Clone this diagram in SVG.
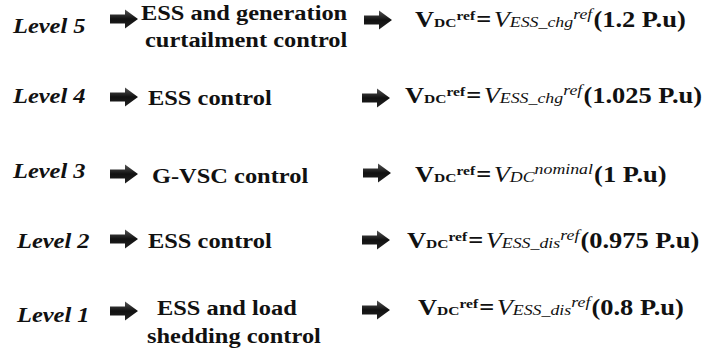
<svg xmlns="http://www.w3.org/2000/svg" width="709" height="353" viewBox="0 0 709 353">
<defs>
<linearGradient id="ag" x1="0" y1="0" x2="0" y2="1">
<stop offset="0" stop-color="#555"/>
<stop offset="0.5" stop-color="#111"/>
<stop offset="1" stop-color="#222"/>
</linearGradient>
<path id="arr" d="M0,-4.5 H15 V-9.5 L28,0 L15,9.5 V4.5 H0 Z" fill="url(#ag)"/>
</defs>
<style>
.lv{font-size:22px;font-weight:bold;font-style:italic}
.ct{font-size:22px;font-weight:bold}
.f{font-size:23px;font-weight:bold}
.sub{font-size:13.5px}
.isub{font-size:15.5px;font-style:italic;font-weight:normal}
.it{font-style:italic;font-weight:normal}
</style>
<rect width="709" height="353" fill="#fff"/>
<g id="connectors">
<use href="#arr" x="110" y="19"/>
<use href="#arr" x="364" y="20"/>
<use href="#arr" x="110" y="97"/>
<use href="#arr" x="362" y="98"/>
<use href="#arr" x="110" y="174"/>
<use href="#arr" x="363" y="173"/>
<use href="#arr" x="110" y="239"/>
<use href="#arr" x="362" y="240"/>
<use href="#arr" x="110" y="311"/>
<use href="#arr" x="362" y="310"/>
</g>
<g font-family="Liberation Serif, Times New Roman, DejaVu Serif, serif" fill="#111">
<g id="level5">
<text class="lv" transform="translate(13,33) scale(1.11,1)">Level 5</text>
<text class="ct" transform="translate(141,20) scale(1.11,1)">ESS and generation</text>
<text class="ct" transform="translate(145,47) scale(1.11,1)">curtailment control</text>
<text class="f" transform="translate(415,27) scale(1.15,1)">V<tspan class="sub">DC</tspan><tspan class="sub" dy="-7">ref</tspan><tspan dy="7" dx="1">=</tspan><tspan class="it" dx="2">V</tspan><tspan class="isub">ESS_chg</tspan><tspan class="isub" dy="-8">ref</tspan><tspan dy="8" dx="1">(1.2 P.u)</tspan></text>
</g>
<g id="level4">
<text class="lv" transform="translate(13,103) scale(1.11,1)">Level 4</text>
<text class="ct" transform="translate(148,105) scale(1.11,1)">ESS control</text>
<text class="f" transform="translate(405,103) scale(1.15,1)">V<tspan class="sub">DC</tspan><tspan class="sub" dy="-7">ref</tspan><tspan dy="7" dx="1">=</tspan><tspan class="it" dx="2">V</tspan><tspan class="isub">ESS_chg</tspan><tspan class="isub" dy="-8">ref</tspan><tspan dy="8" dx="1">(1.025 P.u)</tspan></text>
</g>
<g id="level3">
<text class="lv" transform="translate(13,178) scale(1.11,1)">Level 3</text>
<text class="ct" transform="translate(152,183) scale(1.11,1)">G-VSC control</text>
<text class="f" transform="translate(415,182) scale(1.15,1)">V<tspan class="sub">DC</tspan><tspan class="sub" dy="-7">ref</tspan><tspan dy="7" dx="1">=</tspan><tspan class="it" dx="2">V</tspan><tspan class="isub">DC</tspan><tspan class="isub" dy="-8">nominal</tspan><tspan dy="8" dx="1">(1 P.u)</tspan></text>
</g>
<g id="level2">
<text class="lv" transform="translate(17,248) scale(1.11,1)">Level 2</text>
<text class="ct" transform="translate(148,248) scale(1.11,1)">ESS control</text>
<text class="f" transform="translate(407,248) scale(1.15,1)">V<tspan class="sub">DC</tspan><tspan class="sub" dy="-7">ref</tspan><tspan dy="7" dx="1">=</tspan><tspan class="it" dx="2">V</tspan><tspan class="isub">ESS_dis</tspan><tspan class="isub" dy="-8">ref</tspan><tspan dy="8" dx="1">(0.975 P.u)</tspan></text>
</g>
<g id="level1">
<text class="lv" transform="translate(17,322) scale(1.11,1)">Level 1</text>
<text class="ct" transform="translate(157,315) scale(1.11,1)">ESS and load</text>
<text class="ct" transform="translate(147,343) scale(1.11,1)">shedding control</text>
<text class="f" transform="translate(418,315) scale(1.15,1)">V<tspan class="sub">DC</tspan><tspan class="sub" dy="-7">ref</tspan><tspan dy="7" dx="1">=</tspan><tspan class="it" dx="2">V</tspan><tspan class="isub">ESS_dis</tspan><tspan class="isub" dy="-8">ref</tspan><tspan dy="8" dx="1">(0.8 P.u)</tspan></text>
</g>
</g>
</svg>
